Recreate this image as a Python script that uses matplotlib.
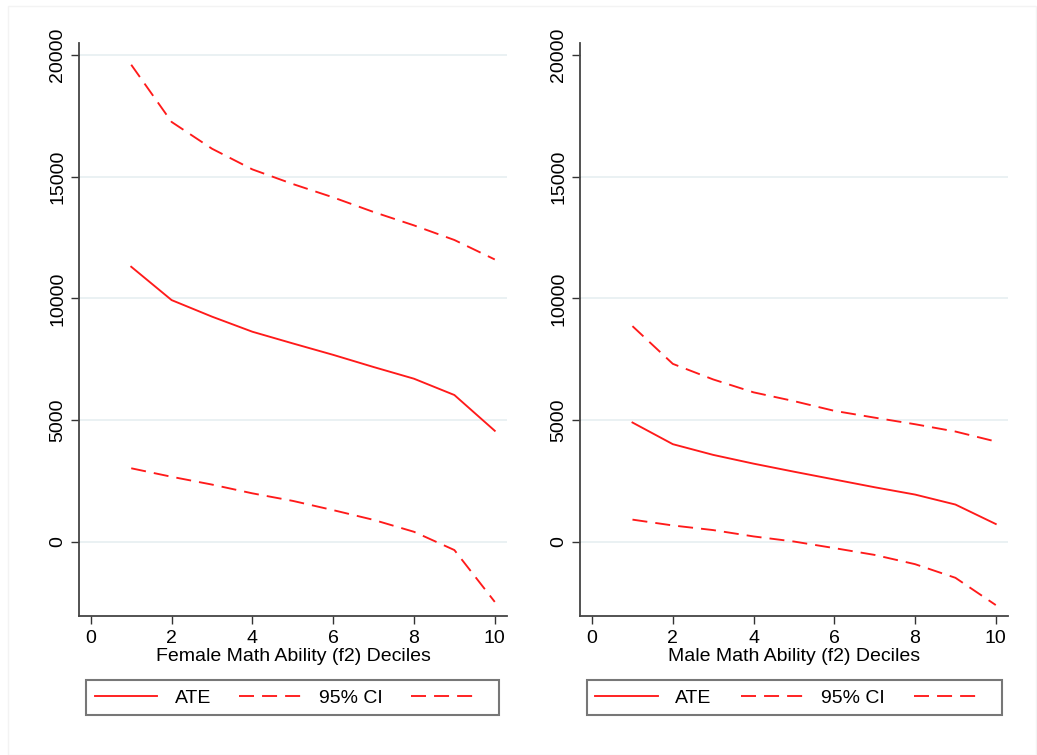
import numpy as np
import matplotlib.pyplot as plt
from matplotlib.lines import Line2D
from matplotlib.patches import Rectangle

# deciles
deciles = np.arange(1, 11)

# female
ate_f = [11300, 9930, 9250, 8630, 8150, 7680, 7180, 6700, 6030, 4560]
upper_f = [19600, 17250, 16150, 15300, 14700, 14150, 13550, 13000, 12400, 11600]
lower_f = [3020, 2670, 2350, 1990, 1680, 1300, 900, 410, -340, -2470]

# male
ate_m = [4900, 4010, 3570, 3210, 2880, 2560, 2240, 1940, 1530, 730]
upper_m = [8860, 7310, 6670, 6140, 5780, 5380, 5100, 4830, 4530, 4120]
lower_m = [910, 670, 480, 220, 10, -260, -540, -920, -1480, -2600]

xlabels = ['Female Math Ability (f2) Deciles', 'Male Math Ability (f2) Deciles']
yticks = [0, 5000, 10000, 15000, 20000]
xticks = [0, 2, 4, 6, 8, 10]

plt.rcParams['font.family'] = ['Liberation Sans', 'DejaVu Sans']
plt.rcParams['lines.scale_dashes'] = False

red = '#ff1a1a'
dash = (0, (10.8, 5.8))
lw = 1.35

fig = plt.figure(figsize=(10.37, 7.55), dpi=100)
fig.patches.append(Rectangle((8 / 1037, 0), 1028 / 1037, 749 / 755, transform=fig.transFigure,
                             fill=False, edgecolor='#f3f3f3', linewidth=1))

ax1 = fig.add_axes([0.0759, 0.1841, 0.4133, 0.7585])
ax2 = fig.add_axes([0.5593, 0.1841, 0.4130, 0.7585])

panels = [(ax1, ate_f, upper_f, lower_f, 86 / 1037, 413 / 1037),
          (ax2, ate_m, upper_m, lower_m, 586.7 / 1037, 415.3 / 1037)]

for i, (ax, ate, up, lo, lgx, lgw) in enumerate(panels):
    gl = yticks if i == 0 else yticks[:-1]
    for g in gl:
        ax.axhline(g, color='#e6eff1', linewidth=1.2, zorder=0)
    ax.plot(deciles, up, color=red, linestyle=dash, linewidth=lw)
    ax.plot(deciles, ate, color=red, linewidth=lw)
    ax.plot(deciles, lo, color=red, linestyle=dash, linewidth=lw)
    ax.set_xlim(-0.3, 10.31)
    ax.set_ylim(-3050, 20480)
    ax.set_xticks(xticks)
    ax.set_yticks(yticks)
    ax.set_yticklabels([str(t) for t in yticks], rotation=90, va='center')
    ax.tick_params(axis='both', labelsize=14, length=6, width=1, color='#333333')
    ax.tick_params(axis='x', pad=4)
    ax.tick_params(axis='y', pad=3)
    ax.set_xlabel(xlabels[i], fontsize=14, labelpad=1)
    for s in ['top', 'right']:
        ax.spines[s].set_visible(False)
    for s in ['left', 'bottom']:
        ax.spines[s].set_color('#444444')
        ax.spines[s].set_linewidth(1.3)

    handles = [Line2D([], [], color=red, linewidth=lw),
               Line2D([], [], color=red, linewidth=lw, linestyle=dash),
               Line2D([], [], color=red, linewidth=lw, linestyle=dash)]
    leg = fig.legend(handles, ['ATE', '95% CI', ''], ncol=3, mode='expand',
                     loc='center', bbox_to_anchor=(lgx, 1 - 715.7 / 755, lgw, 35.7 / 755),
                     bbox_transform=fig.transFigure, fontsize=14, handlelength=3.2,
                     handletextpad=0.9, columnspacing=1.4, fancybox=False,
                     borderpad=0.45, borderaxespad=0)
    leg.get_frame().set_edgecolor('#555555')
    leg.get_frame().set_linewidth(1.5)

fig.savefig('out.png', dpi=100)
